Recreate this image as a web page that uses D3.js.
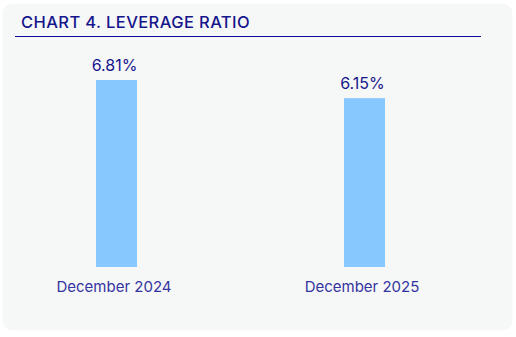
<!DOCTYPE html>
<html>
<head>
<meta charset="utf-8">
<script src="https://cdn.jsdelivr.net/npm/d3@7"></script>
<style>
  html, body { margin: 0; padding: 0; background: #ffffff; }
  text { font-family: Inter, "Noto Sans", sans-serif; }
</style>
</head>
<body>
<div id="chart"></div>
<script>
const width = 516;
const height = 337;

// Data
const categories = ["December 2024", "December 2025"];
const values = [6.81, 6.15];
const valueLabels = ["6.81%", "6.15%"];
const title = "CHART 4. LEVERAGE RATIO";

const svg = d3.select("#chart").append("svg")
    .attr("width", width)
    .attr("height", height);

// Card background
svg.append("rect")
    .attr("x", 2.5).attr("y", 3.5)
    .attr("width", 510).attr("height", 327)
    .attr("rx", 10)
    .attr("fill", "#f6f8f8");

// Title + rule
svg.append("text")
    .attr("x", 21).attr("y", 27.5)
    .attr("font-size", "16.5px")
    .attr("font-weight", 500)
    .attr("letter-spacing", "0.4px")
    .attr("fill", "#16168c")
    .text(title);

svg.append("line")
    .attr("x1", 15).attr("x2", 481)
    .attr("y1", 36.5).attr("y2", 36.5)
    .attr("stroke", "#0a0aa0")
    .attr("stroke-width", 1);

// Scales
const x = d3.scalePoint()
    .domain(categories)
    .range([116.5, 364.5]);

const y = d3.scaleLinear()
    .domain([0, 6.81])
    .range([267, 80]);

const barWidth = 41;

const g = svg.append("g");

g.selectAll(".bar")
    .data(values)
    .enter().append("rect")
    .attr("class", "bar")
    .attr("x", (d, i) => x(categories[i]) - barWidth / 2)
    .attr("y", d => y(d))
    .attr("width", barWidth)
    .attr("height", d => y(0) - y(d))
    .attr("fill", "#87c8fe");

// Value labels
g.selectAll(".val")
    .data(values)
    .enter().append("text")
    .attr("class", "val")
    .attr("x", (d, i) => x(categories[i]) - 2)
    .attr("y", d => y(d) - 9)
    .attr("text-anchor", "middle")
    .attr("font-size", "16px")
    .attr("font-weight", 400)
    .attr("fill", "#16168c")
    .text((d, i) => valueLabels[i]);

// Category labels (axis without line/ticks)
const axis = svg.append("g")
    .attr("transform", `translate(0,${y(0)})`)
    .call(d3.axisBottom(x).tickSize(0).tickPadding(14));

axis.select(".domain").remove();
axis.selectAll("text")
    .attr("dx", -3)
    .attr("font-family", "Inter, 'Noto Sans', sans-serif")
    .attr("font-size", "15px")
    .attr("font-weight", 400)
    .attr("fill", "#3434a0");
</script>
</body>
</html>
